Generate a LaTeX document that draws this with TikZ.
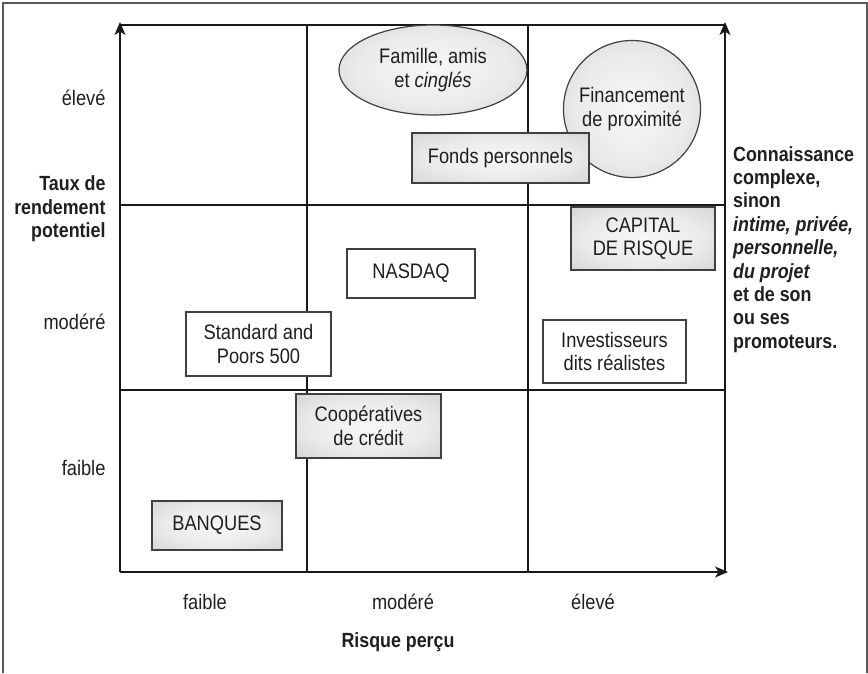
\documentclass[tikz,border=0pt]{standalone}
\usepackage{fontspec}
\setmainfont{Liberation Sans}[FakeStretch=0.87]
\usetikzlibrary{arrows.meta,shapes.geometric}

% soft grey glow used for the shaded boxes
\pgfdeclareradialshading{glow}{\pgfpoint{0bp}{0bp}}{%
  color(0bp)=(black!3); color(20bp)=(black!8); color(50bp)=(black!24); color(72bp)=(black!28)}

\tikzset{
  every node/.style={font=\fontsize{21}{23.4}\selectfont, text=black!88},
  boldtext/.style={font=\fontsize{20.5}{23.4}\selectfont\bfseries},
  frameline/.style={draw=black!65, line width=1.8pt},
  gridline/.style={draw=black!90, line width=1.1pt},
  axisarrow/.style={gridline, -{Stealth[length=13pt,width=11pt,inset=3.5pt]}},
  boxbase/.style={draw=black!75, line width=1.2pt, inner sep=0pt, align=center},
  plainbox/.style={boxbase, rectangle, fill=white},
  shadebox/.style={boxbase, rectangle, shading=glow},
  axislabel/.style={anchor=east},
  ticklabel/.style={anchor=center},
}

\begin{document}
\begin{tikzpicture}[x=1pt, y=-1pt]
\useasboundingbox (0,0) rectangle (868,673);

% open page frame
\draw[frameline] (3,673) -- (3,3) -- (867,3) -- (867,673);

% corners of the grid
\coordinate (o)  at (120,572);
\coordinate (tl) at (120,25);
\coordinate (tr) at (725,25);
\coordinate (br) at (725,572);
\coordinate (ytip) at (120,22);
\coordinate (rtip) at (725,22);
\coordinate (xtip) at (728,572);

% cell dividers
\coordinate (v1t) at (307,25);  \coordinate (v1b) at (307,572);
\coordinate (v2t) at (528,25);  \coordinate (v2b) at (528,572);
\coordinate (h1l) at (120,205); \coordinate (h1r) at (725,205);
\coordinate (h2l) at (120,390); \coordinate (h2r) at (725,390);

\draw[gridline] (tl) -- (tr);
\draw[gridline] (v1t) -- (v1b);
\draw[gridline] (v2t) -- (v2b);
\draw[gridline] (h1l) -- (h1r);
\draw[gridline] (h2l) -- (h2r);
\draw[axisarrow] (o) -- (ytip);
\draw[axisarrow] (br) -- (rtip);
\draw[axisarrow] (o) -- (xtip);

% vertical axis labels
\node[axislabel] (ehigh) at (109,98) {élevé};
\node[axislabel] (emod)  at (109,322) {modéré};
\node[axislabel] (elow)  at (109,468) {faible};
\node[boldtext, align=right, anchor=east] (ytitle) at (109,209) {Taux de\\rendement\\potentiel};

% horizontal axis labels
\node[ticklabel] (rlow)  at (205,602) {faible};
\node[ticklabel] (rmod)  at (403,602) {modéré};
\node[ticklabel] (rhigh) at (593,602) {élevé};
\node[boldtext] (xtitle) at (398,642) {Risque perçu};

% right-hand comment
\node[boldtext, align=left, anchor=north west, inner sep=0pt]
  (note) at (733,146) {Connaissance\\complexe,\\sinon\\\textit{intime, privée,}\\\textit{personnelle,}\\\textit{du projet}\\et de son\\ou ses\\promoteurs.};

% sources of funding
\node[boxbase, ellipse, shading=glow, minimum width=188pt, minimum height=90pt]
  (famille) at (433,70) {Famille, amis\\et \textit{cinglés}};
\node[boxbase, circle, shading=glow, minimum size=137pt]
  (proximite) at (632,109) {Financement\\de proximité};
\node[shadebox, minimum width=177pt, minimum height=50pt]
  (fonds) at (500.5,158) {Fonds personnels};
\node[shadebox, minimum width=144pt, minimum height=63pt]
  (capital) at (643,238.5) {CAPITAL\\DE RISQUE};
\node[plainbox, minimum width=128pt, minimum height=49pt]
  (nasdaq) at (411,273.5) {NASDAQ};
\node[plainbox, minimum width=143pt, minimum height=63pt]
  (investisseurs) at (614.5,351.5) {Investisseurs\\dits réalistes};
\node[plainbox, minimum width=145pt, minimum height=64pt]
  (standard) at (258.5,344) {Standard and\\Poors 500};
\node[shadebox, minimum width=145pt, minimum height=64pt]
  (cooperatives) at (368.5,426) {Coopératives\\de crédit};
\node[shadebox, minimum width=130pt, minimum height=49pt]
  (banques) at (217,525.5) {BANQUES};

\end{tikzpicture}
\end{document}
